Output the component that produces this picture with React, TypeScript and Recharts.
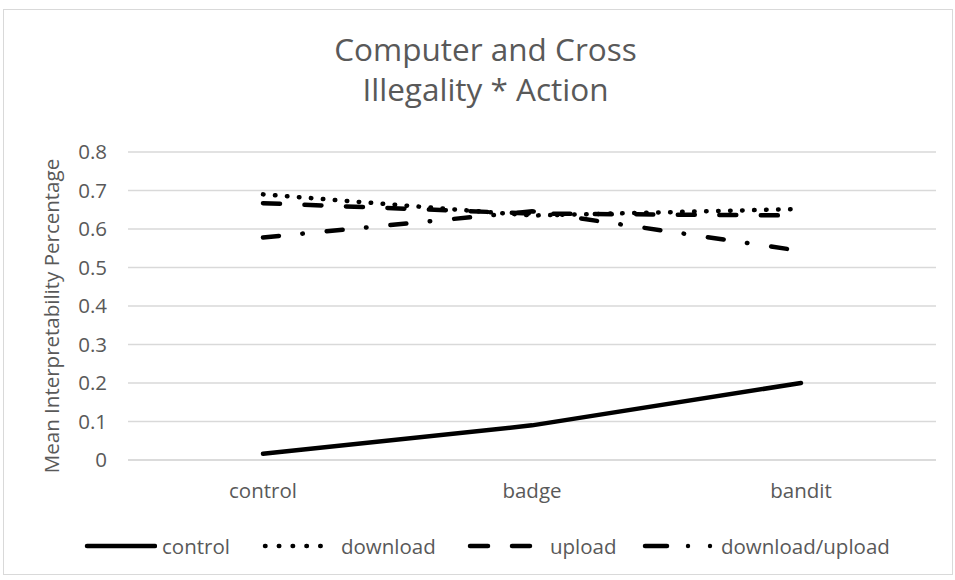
import { LineChart, Line, XAxis, YAxis, CartesianGrid } from 'recharts'

const categories = ['control', 'badge', 'bandit']
const controlValues = [0.016, 0.09, 0.2]
const downloadValues = [0.69, 0.635, 0.652]
const uploadValues = [0.667, 0.64, 0.635]
const downloadUploadValues = [0.578, 0.646, 0.543]
const yTicks = [0, 0.1, 0.2, 0.3, 0.4, 0.5, 0.6, 0.7, 0.8]

const FONT = '"Open Sans", sans-serif'
const GREY = '#595959'

const series = [
  { key: 'control', name: 'control', dash: undefined as string | undefined },
  { key: 'download', name: 'download', dash: '0.5 11.5' },
  { key: 'upload', name: 'upload', dash: '17 24.5' },
  { key: 'downloadUpload', name: 'download/upload', dash: '16 23.5 0.5 24' },
]
// legend item left edges, px
const legendLeft = [83, 261, 466, 641]

const data = categories.map((c, i) => ({
  name: c,
  control: controlValues[i],
  download: downloadValues[i],
  upload: uploadValues[i],
  downloadUpload: downloadUploadValues[i],
}))

function LegendBox() {
  const icon = (k: string) => {
    if (k === 'control') return <line x1={4} y1={8} x2={72} y2={8} stroke="#000" strokeWidth={4.5} strokeLinecap="round" />
    if (k === 'download') return <line x1={4} y1={8} x2={72} y2={8} stroke="#000" strokeWidth={4.5} strokeLinecap="round" strokeDasharray="0.5 13.3" />
    if (k === 'upload') return <line x1={4} y1={8} x2={66} y2={8} stroke="#000" strokeWidth={4.5} strokeLinecap="round" strokeDasharray="18 24" />
    return (
      <g>
        <line x1={4} y1={8} x2={26} y2={8} stroke="#000" strokeWidth={4.5} strokeLinecap="round" />
        <circle cx={47} cy={8} r={2.2} fill="#000" />
        <circle cx={69} cy={8} r={2.2} fill="#000" />
      </g>
    )
  }
  const labelGap = [5, 6, 10, 6]
  return (
    <div style={{ position: 'absolute', left: 0, top: 532, width: 955, height: 30, fontFamily: FONT, fontSize: 20.5, color: GREY }}>
      {series.map((s, i) => (
        <div key={s.key} style={{ position: 'absolute', left: legendLeft[i], top: 0, display: 'flex', alignItems: 'center', whiteSpace: 'nowrap' }}>
          <svg width={74} height={16}>{icon(s.key)}</svg>
          <span style={{ marginLeft: labelGap[i] }}>{s.name}</span>
        </div>
      ))}
    </div>
  )
}

function YLabel() {
  return (
    <text x={51} y={316} transform="rotate(-90, 51, 316)" textAnchor="middle" dominantBaseline="central"
      fontFamily={FONT} fontSize={20.5} fill={GREY}>
      Mean Interpretability Percentage
    </text>
  )
}

export default function App() {
  return (
    <div style={{ position: 'fixed', left: 0, top: 0, width: 955, height: 580, background: '#fff' }}>
      <div style={{ position: 'absolute', left: 3, top: 9, width: 950, height: 566, border: '1px solid #d9d9d9', boxSizing: 'border-box' }} />
      <div style={{ position: 'absolute', left: 8, top: 29, width: 955, textAlign: 'center', fontFamily: FONT, fontSize: 31.5, lineHeight: '40px', color: GREY }}>
        Computer and Cross<br />Illegality * Action
      </div>
      <LineChart width={955} height={580} data={data} margin={{ top: 152, right: 19, bottom: 90, left: 0 }}
        style={{ position: 'absolute', left: 0, top: 0 }}>
        <CartesianGrid vertical={false} stroke="#d9d9d9" strokeWidth={1.5} />
        <XAxis dataKey="name" axisLine={{ stroke: '#d9d9d9', strokeWidth: 1.5 }} tickLine={false} tickSize={0} tickMargin={23}
          padding={{ left: 135, right: 135 }} tick={{ fontFamily: FONT, fontSize: 20.5, fill: GREY }} />
        <YAxis width={128} domain={[0, 0.8]} ticks={yTicks} axisLine={false} tickLine={false} tickSize={0} tickMargin={21}
          tick={{ fontFamily: FONT, fontSize: 20.5, fill: GREY }} label={<YLabel />} />
        {series.map((s) => (
          <Line key={s.key} dataKey={s.key} name={s.name} stroke="#000" strokeWidth={4.5} strokeLinecap="round"
            strokeDasharray={s.dash} dot={false} activeDot={false} isAnimationActive={false} />
        ))}
      </LineChart>
      <LegendBox />
    </div>
  )
}
